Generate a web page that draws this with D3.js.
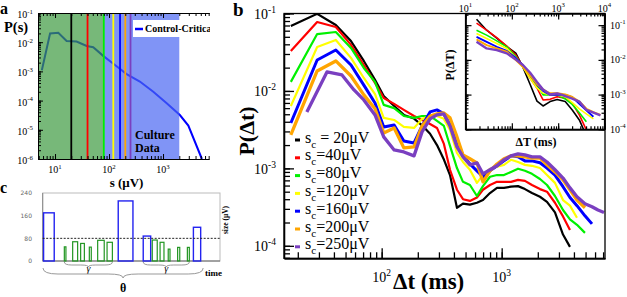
<!DOCTYPE html>
<html>
<head>
<meta charset="utf-8">
<script src="https://cdn.jsdelivr.net/npm/d3@7"></script>
<style>
body { margin: 0; background: #fff; }
svg { display: block; font-family: "Liberation Serif", "Times New Roman", serif; }
</style>
</head>
<body>
<div id="fig"></div>
<script>
// ---- panel a : size distribution ----
var sizeS = [5.7, 8.1, 11.5, 16.4, 25, 38.6, 51, 78, 129, 212, 372, 660, 1170, 2050, 2940, 5250];
var sizeP = [1.1e-3, 0.02, 0.021, 0.011, 0.0105, 0.0074, 0.0067, 0.0034, 0.00166, 0.00081, 0.00045, 0.0002, 8.1e-5, 3.2e-5, 1.4e-5, 1e-6];
var regionEdges = [80, 2000];
var thresholds = [20, 40, 80, 120, 160, 200, 250];
var seriesColors = ["#000000", "#ff0000", "#00f000", "#ffff00", "#0000ff", "#ffa500", "#7a3fc0"];

// ---- panel b : waiting time distributions ----
var dtGrid = [17.5, 29, 41.5, 55.5, 71, 88, 104, 127, 153, 186, 217, 253, 289, 330, 371, 424, 476, 544, 622, 698,
  799, 914, 1045, 1195, 1368, 1563, 1788, 2085, 2385, 2780, 3243, 3707, 4241, 4943, 5655, 6345, 7120];
var p20 = [0.069, 0.099, 0.071, 0.044, 0.0244, 0.0139, 0.0086, 0.0064, 0.0049, 0.0044, 0.0036, 0.0028, 0.0020, 0.0013, 0.00082,
  0.00031, 0.00035, 0.00034, 0.00036, 0.00039, 0.00048, 0.00056, 0.00056, 0.00058, 0.00059, 0.00054, 0.00048, 0.00043, 0.00037,
  0.00027, 0.00014, 0.000097];
var p40 = [0.0328, 0.0777, 0.067, 0.0393, 0.0216, 0.0127, 0.0081, 0.0068, 0.0057, 0.00475, 0.00422, 0.00375, 0.00333, 0.00207,
  0.00096, 0.00053, 0.0004, 0.00038, 0.00042, 0.00053, 0.00061, 0.00067, 0.00067, 0.00067, 0.00071, 0.00069, 0.00061, 0.00054,
  0.0005, 0.00036, 0.00024, 0.00016];
var p80 = [0.0131, 0.0543, 0.0577, 0.0359, 0.0198, 0.0131, 0.0066, 0.006, 0.00475, 0.00449, 0.00475, 0.00475, 0.0041, 0.00353,
  0.00195, 0.00101, 0.00067, 0.00061, 0.00044, 0.00059, 0.00078, 0.00082, 0.00082, 0.0009, 0.00099, 0.00093, 0.00085, 0.00073,
  0.00061, 0.00044, 0.00029, 0.00022, 0.000187, 0.000147];
var p120 = [0.0064, 0.037, 0.0455, 0.0267, 0.0147, 0.0091, 0.00449, 0.00422, 0.00343, 0.00333, 0.00436, 0.00475, 0.00475, 0.00436,
  0.00314, 0.00158, 0.00121, 0.00096, 0.00065, 0.00082, 0.00099, 0.00105, 0.00111, 0.00129, 0.00121, 0.00111, 0.00108, 0.00101,
  0.00082, 0.00065, 0.00039, 0.00033, 0.00023];
var p160 = [0.00386, 0.0251, 0.0338, 0.0216, 0.0119, 0.007, 0.00343, 0.00364, 0.00226, 0.00213, 0.00353, 0.00536, 0.00569, 0.00505,
  0.00364, 0.00233, 0.00145, 0.00114, 0.00093, 0.00078, 0.00093, 0.00108, 0.00125, 0.00145, 0.00141, 0.00125, 0.00125, 0.00118,
  0.00101, 0.00082, 0.00058, 0.00042, 0.00033, 0.000244, 0.000192];
var p200 = [0.0027, 0.0181, 0.0244, 0.0156, 0.0089, 0.0059, 0.00287, 0.00333, 0.00184, 0.00189, 0.00353, 0.00475, 0.00505, 0.0052,
  0.00449, 0.00255, 0.00149, 0.00133, 0.00118, 0.00067, 0.00093, 0.00114, 0.00133, 0.00145, 0.00145, 0.00141, 0.00136, 0.00136,
  0.00111, 0.0009, 0.00071, 0.00053, 0.00039, 0.00031];
var dt250 = [23.8, 35, 46.7, 58.8, 71, 88, 104, 127, 153, 186, 217, 253, 289, 330, 371, 424, 476, 544, 622, 698,
  799, 914, 1045, 1195, 1368, 1563, 1788, 2085, 2385, 2780, 3243, 3707, 4241, 4943, 5655, 6345, 7120];
var p250 = [0.00536, 0.0176, 0.0161, 0.0103, 0.00766, 0.0049, 0.00255, 0.00173, 0.00163, 0.00145, 0.00296, 0.00436, 0.0049, 0.00505,
  0.00353, 0.00189, 0.00141, 0.00111, 0.00118, 0.00085, 0.00096, 0.00108, 0.00129, 0.00145, 0.00154, 0.00149, 0.00141, 0.00141,
  0.00121, 0.00096, 0.00075, 0.00056, 0.00043, 0.00035, 0.00032, 0.00029, 0.00027];

// ---- inset : quiet time distributions ----
var dTGrid = [17.3, 28.6, 47.2, 77.9, 122, 173, 246, 349, 472, 670, 951, 1420, 2015, 2862, 4061, 5765, 8185];
var q20 = [0.149, 0.0718, 0.0423, 0.0241, 0.0157, 0.0062, 0.00202, 0.00065, 0.00047, 0.00063, 0.00072, 0.00063, 0.00036, 0.000186, 0.000065];
var q40 = [0.114, 0.0718, 0.0438, 0.0249, 0.0137, 0.0066, 0.003, 0.00155, 0.0007, 0.00073, 0.00087, 0.00078, 0.00056, 0.00026, 0.000096];
var q80 = [0.0718, 0.0516, 0.0354, 0.0238, 0.0123, 0.0063, 0.00327, 0.00189, 0.00098, 0.00098, 0.00098, 0.00075, 0.00052, 0.0003, 0.000166];
var q120 = [0.0577, 0.0415, 0.0298, 0.0214, 0.0113, 0.0062, 0.003, 0.00155, 0.00111, 0.00098, 0.00098, 0.00087, 0.00059, 0.00039, 0.00028, 0.0002];
var q160 = [0.0461, 0.0331, 0.0238, 0.0182, 0.0113, 0.0071, 0.00366, 0.00195, 0.00127, 0.00098, 0.00098, 0.00098, 0.00085, 0.00054, 0.00035, 0.00023];
var q200 = [0.0388, 0.0266, 0.0214, 0.0171, 0.0099, 0.0063, 0.00366, 0.00202, 0.0014, 0.00109, 0.00109, 0.00101, 0.00085, 0.00063, 0.00039, 0.00031, 0.00026];
var q250 = [0.0331, 0.0214, 0.0191, 0.0154, 0.0102, 0.0071, 0.00432, 0.0023, 0.0014, 0.00101, 0.00108, 0.00091, 0.00077, 0.00063, 0.00036, 0.0003, 0.00025];

// ---- panel c : schematic of events ----
var eventStart = [0.5, 12.2, 16.9, 21.4, 26.3, 31.0, 36.3, 42.6, 56.7, 61.8, 66.2, 70.8, 76.1, 81.6, 85.0];
var eventEnd = [6.5, 13.1, 19.7, 23.5, 27.4, 34.7, 39.3, 50.9, 60.9, 64.6, 68.4, 71.8, 77.3, 82.7, 89.1];
var eventSize = [170, 50, 68, 62, 49, 73, 66, 212, 88, 74, 66, 42, 48, 48, 119];
var sizeThreshold = 80;
var sizeTicks = [0, 80, 160, 240];

var svg = d3.select("#fig").append("svg").attr("width", 627).attr("height", 297);
var defs = svg.append("defs");

function sup(g, x, y, exp, fs, anchor) {
  var t = g.append("text").attr("x", x).attr("y", y).attr("font-size", fs)
    .attr("text-anchor", anchor || "middle");
  t.append("tspan").text("10");
  t.append("tspan").attr("font-size", fs * 0.68).attr("dy", -fs * 0.45).text(exp);
  return t;
}

function isDecade(d) {
  var l = Math.log10(d);
  return Math.abs(l - Math.round(l)) < 1e-9;
}

// minor ticks and longer decade ticks, both pointing inwards
function logAxis(g, axisFn, scale, major, minor, width) {
  var all = scale.ticks();
  g.call(axisFn(scale).tickValues(all).tickSizeInner(minor).tickSizeOuter(0).tickFormat(""));
  g.append("g").call(axisFn(scale).tickValues(all.filter(isDecade)).tickSizeInner(major).tickSizeOuter(0).tickFormat(""));
  g.selectAll("path,line").attr("stroke-width", width || 1);
}

// ================= panel a =================
defs.append("clipPath").attr("id", "clipA").append("rect")
  .attr("x", 0).attr("y", 0).attr("width", 210).attr("height", 200);
var xA = d3.scaleLog().domain([4.84, 7100]).range([38, 209]);
var yA = d3.scaleLog().domain([1e-6, 0.1]).range([159, 13]);
var gA = svg.append("g").attr("clip-path", "url(#clipA)");

gA.append("path").datum(d3.zip(sizeS, sizeP))
  .attr("fill", "none").attr("stroke", "#0000ff").attr("stroke-width", 2)
  .attr("d", d3.line().x(function(d) { return xA(d[0]); }).y(function(d) { return yA(d[1]); }));

gA.append("rect").attr("x", xA.range()[0]).attr("y", yA.range()[1])
  .attr("width", xA(regionEdges[0]) - xA.range()[0]).attr("height", yA.range()[0] - yA.range()[1])
  .attr("fill", "#3d9a40").attr("opacity", 0.7);
gA.append("rect").attr("x", xA(regionEdges[0])).attr("y", yA.range()[1])
  .attr("width", xA(regionEdges[1]) - xA(regionEdges[0])).attr("height", yA.range()[0] - yA.range()[1])
  .attr("fill", "#4a66f2").attr("opacity", 0.7);

gA.selectAll("line.sc").data(thresholds).enter().append("line")
  .attr("x1", function(d) { return xA(d); }).attr("x2", function(d) { return xA(d); })
  .attr("y1", yA.range()[1]).attr("y2", yA.range()[0])
  .attr("stroke", function(d, i) { return seriesColors[i]; }).attr("stroke-width", 1.8);

logAxis(gA.append("g").attr("transform", "translate(38,0)"), d3.axisLeft, yA, -5, -3);
logAxis(gA.append("g").attr("transform", "translate(0,159)"), d3.axisBottom, xA, -5, -3);
logAxis(gA.append("g").attr("transform", "translate(0,13)"), d3.axisTop, xA, -5, -3);

gA.append("rect").attr("x", 133).attr("y", 20).attr("width", 90).attr("height", 17).attr("fill", "#fff");
gA.append("line").attr("x1", 135).attr("x2", 143).attr("y1", 29).attr("y2", 29)
  .attr("stroke", "#0000ff").attr("stroke-width", 2.5);
gA.append("text").attr("x", 145).attr("y", 32).attr("font-size", 10).attr("font-weight", "bold")
  .text("Control-Critical");

gA.append("text").attr("x", 135).attr("y", 139).attr("font-size", 12).attr("font-weight", "bold").text("Culture");
gA.append("text").attr("x", 135).attr("y", 151.5).attr("font-size", 12).attr("font-weight", "bold").text("Data");

[-1, -2, -3, -4, -5, -6].forEach(function(e) {
  sup(svg, 33, yA(Math.pow(10, e)) + 5, String(e), 10, "end");
});
[1, 2, 3].forEach(function(e) {
  sup(svg, xA(Math.pow(10, e)), 173, String(e), 10, "middle");
});
svg.append("text").attr("x", 0).attr("y", 14).attr("font-size", 16).attr("font-weight", "bold").text("a");
svg.append("text").attr("x", 4).attr("y", 32).attr("font-size", 14.5).attr("font-weight", "bold").text("P(s)");
svg.append("text").attr("x", 126.5).attr("y", 187).attr("font-size", 13).attr("font-weight", "bold")
  .attr("text-anchor", "middle").text("s (μV)");

// ================= panel b =================
var xB = d3.scaleLog().domain([15.35, 7260]).range([284, 605]);
var yB = d3.scaleLog().domain([6.9e-5, 0.1]).range([258.3, 13.5]);
defs.append("clipPath").attr("id", "clipB").append("rect")
  .attr("x", 284).attr("y", 13.5).attr("width", 321).attr("height", 244.8);

var mainSeries = [
  { t: dtGrid, p: p20 }, { t: dtGrid, p: p40 }, { t: dtGrid, p: p80 }, { t: dtGrid, p: p120 },
  { t: dtGrid, p: p160 }, { t: dtGrid, p: p200 }, { t: dt250, p: p250 }
];
var mainWidths = [2.2, 2.2, 2.2, 2.2, 3, 3.3, 3.3];
var lineB = d3.line().x(function(d) { return xB(d[0]); }).y(function(d) { return yB(d[1]); });
var gB = svg.append("g").attr("clip-path", "url(#clipB)");
mainSeries.forEach(function(s, i) {
  gB.append("path").datum(d3.zip(s.t, s.p))
    .attr("fill", "none").attr("stroke", seriesColors[i]).attr("stroke-width", mainWidths[i])
    .attr("stroke-linejoin", "round").attr("d", lineB);
});

svg.append("rect").attr("x", 284).attr("y", 13.5).attr("width", 321).attr("height", 244.8)
  .attr("fill", "none").attr("stroke", "#000").attr("stroke-width", 1.3);
logAxis(svg.append("g").attr("transform", "translate(284,0)"), d3.axisLeft, yB, -10, -6, 1.3);
logAxis(svg.append("g").attr("transform", "translate(0,258.3)"), d3.axisBottom, xB, -10, -6, 1.3);

[-1, -2, -3, -4].forEach(function(e) {
  sup(svg, 276, yB(Math.pow(10, e)) + 5.5, String(e), 14, "end");
});
[2, 3].forEach(function(e) {
  sup(svg, xB(Math.pow(10, e)), 282, String(e), 14, "middle");
});

// legend
var legB = svg.append("g");
thresholds.forEach(function(v, i) {
  var y = 140 + 17.8 * i;
  legB.append("line").attr("x1", 295).attr("x2", 300).attr("y1", y).attr("y2", y)
    .attr("stroke", seriesColors[i]).attr("stroke-width", 3);
  var t = legB.append("text").attr("x", 305).attr("y", y + 2.5).attr("font-size", 16);
  t.append("tspan").text("s");
  t.append("tspan").attr("font-size", 11).attr("dy", 5).text("c");
  t.append("tspan").attr("dy", -5).text((i === 0 ? " = " : "=") + v + "μV");
});

svg.append("text").attr("x", 233).attr("y", 16).attr("font-size", 19).attr("font-weight", "bold").text("b");
svg.append("text").attr("x", 393).attr("y", 289).attr("font-size", 23).attr("font-weight", "bold").text("Δt (ms)");
svg.append("text").attr("transform", "translate(254,131) rotate(-90)").attr("text-anchor", "middle")
  .attr("font-size", 22).attr("font-weight", "bold").text("P(Δt)");

// ================= inset =================
var xI = d3.scaleLog().domain([10, 1e4]).range([465.5, 604.5]);
var yI = d3.scaleLog().domain([1e-4, 0.217]).range([129.3, 13.5]);
defs.append("clipPath").attr("id", "clipI").append("rect")
  .attr("x", 465.5).attr("y", 13.5).attr("width", 139).attr("height", 115.8);
svg.append("rect").attr("x", 465.5).attr("y", 13.5).attr("width", 139).attr("height", 115.8).attr("fill", "#fff");

var insetSeries = [q20, q40, q80, q120, q160, q200, q250];
var insetWidths = [1.6, 1.6, 1.6, 1.6, 1.8, 2, 2.4];
var lineI = d3.line().x(function(d) { return xI(d[0]); }).y(function(d) { return yI(d[1]); });
var gI = svg.append("g").attr("clip-path", "url(#clipI)");
insetSeries.forEach(function(p, i) {
  gI.append("path").datum(d3.zip(dTGrid.slice(0, p.length), p))
    .attr("fill", "none").attr("stroke", seriesColors[i]).attr("stroke-width", insetWidths[i])
    .attr("stroke-linejoin", "round").attr("d", lineI);
});

svg.append("rect").attr("x", 465.5).attr("y", 13.5).attr("width", 139).attr("height", 115.8)
  .attr("fill", "none").attr("stroke", "#000").attr("stroke-width", 1.2);
logAxis(svg.append("g").attr("transform", "translate(465.5,0)"), d3.axisLeft, yI, -6, -3, 1.2);
logAxis(svg.append("g").attr("transform", "translate(604.5,0)"), d3.axisRight, yI, -6, -3, 1.2);
logAxis(svg.append("g").attr("transform", "translate(0,129.3)"), d3.axisBottom, xI, -6, -3, 1.2);
logAxis(svg.append("g").attr("transform", "translate(0,13.5)"), d3.axisTop, xI, -6, -3, 1.2);

[1, 2, 3, 4].forEach(function(e) {
  sup(svg, xI(Math.pow(10, e)), 11.5, String(e), 10, "middle");
});
[-1, -2, -3, -4].forEach(function(e) {
  sup(svg, 610, yI(Math.pow(10, e)) + 3.5, String(e), 10, "start");
});
svg.append("text").attr("transform", "translate(454,65) rotate(-90)").attr("text-anchor", "middle")
  .attr("font-size", 12).attr("font-weight", "bold").text("P(ΔT)");
svg.append("text").attr("x", 536).attr("y", 146).attr("text-anchor", "middle")
  .attr("font-size", 12).attr("font-weight", "bold").text("ΔT (ms)");

// ================= panel c =================
var xC = d3.scaleLinear().domain([0, 100]).range([42.7, 220]);
var yC = d3.scaleLinear().domain([0, 240]).range([261, 193]);
var gC = svg.append("g");

gC.append("rect").attr("x", xC(0)).attr("y", yC(240)).attr("width", xC(100) - xC(0)).attr("height", yC(0) - yC(240))
  .attr("fill", "none").attr("stroke", "#bbb").attr("stroke-width", 1);
gC.append("line").attr("x1", xC(0)).attr("x2", xC(100)).attr("y1", yC(0)).attr("y2", yC(0))
  .attr("stroke", "#666").attr("stroke-width", 1);
gC.append("line").attr("x1", xC(0)).attr("x2", xC(0)).attr("y1", yC(240)).attr("y2", yC(0))
  .attr("stroke", "#888").attr("stroke-width", 1);

gC.selectAll("rect.ev").data(eventSize).enter().append("rect")
  .attr("x", function(d, i) { return xC(eventStart[i]); })
  .attr("width", function(d, i) { return xC(eventEnd[i]) - xC(eventStart[i]); })
  .attr("y", function(d) { return yC(d); })
  .attr("height", function(d) { return yC(0) - yC(d); })
  .attr("fill", "none")
  .attr("stroke", function(d) { return d > sizeThreshold ? "#2323f0" : "#239623"; })
  .attr("stroke-width", function(d) { return d > sizeThreshold ? 1.4 : 1.2; });

gC.append("line").attr("x1", xC(0)).attr("x2", xC(100)).attr("y1", yC(sizeThreshold)).attr("y2", yC(sizeThreshold))
  .attr("stroke", "#222").attr("stroke-width", 1).attr("stroke-dasharray", "2,1.5");

sizeTicks.forEach(function(v) {
  gC.append("text").attr("x", 32).attr("y", yC(v) + 2.3).attr("text-anchor", "end")
    .attr("font-size", 6).attr("font-family", "DejaVu Sans, sans-serif").attr("fill", "#666").text(v);
});

function bracePath(x1, x2, y, h) {
  var m = (x1 + x2) / 2, r = Math.min(h * 1.5, (x2 - x1) / 4), yb = y + h * 0.6, yt = y + h;
  return "M" + x1 + "," + y + "Q" + x1 + "," + yb + " " + (x1 + r) + "," + yb +
    "L" + (m - r) + "," + yb + "Q" + m + "," + yb + " " + m + "," + yt +
    "Q" + m + "," + yb + " " + (m + r) + "," + yb +
    "L" + (x2 - r) + "," + yb + "Q" + x2 + "," + yb + " " + x2 + "," + y;
}
var groups = [[1, 6], [8, 13]];
groups.forEach(function(gr) {
  var x1 = xC(eventStart[gr[0]]), x2 = xC(eventEnd[gr[1]]);
  gC.append("path").attr("d", bracePath(x1, x2, 262, 5)).attr("fill", "none")
    .attr("stroke", "#999").attr("stroke-width", 1);
  gC.append("text").attr("x", (x1 + x2) / 2).attr("y", 272).attr("text-anchor", "middle")
    .attr("font-size", 10).attr("font-style", "italic").text("γ");
});
var bx1 = xC(eventStart[0]) - 0.6, bx2 = xC(eventEnd[eventEnd.length - 1]) + 2.5;
gC.append("path").attr("d", bracePath(bx1, bx2, 268, 10)).attr("fill", "none")
  .attr("stroke", "#999").attr("stroke-width", 1);
gC.append("text").attr("x", (bx1 + bx2) / 2).attr("y", 292).attr("text-anchor", "middle")
  .attr("font-size", 12).attr("font-weight", "bold").text("θ");

gC.append("text").attr("x", 205).attr("y", 276).attr("font-size", 9).attr("font-weight", "bold").text("time");
gC.append("text").attr("transform", "translate(228,220) rotate(-90)").attr("text-anchor", "middle")
  .attr("font-size", 7.5).attr("font-weight", "bold").text("size (μV)");
svg.append("text").attr("x", 0).attr("y", 193).attr("font-size", 16).attr("font-weight", "bold").text("c");
</script>
</body>
</html>
